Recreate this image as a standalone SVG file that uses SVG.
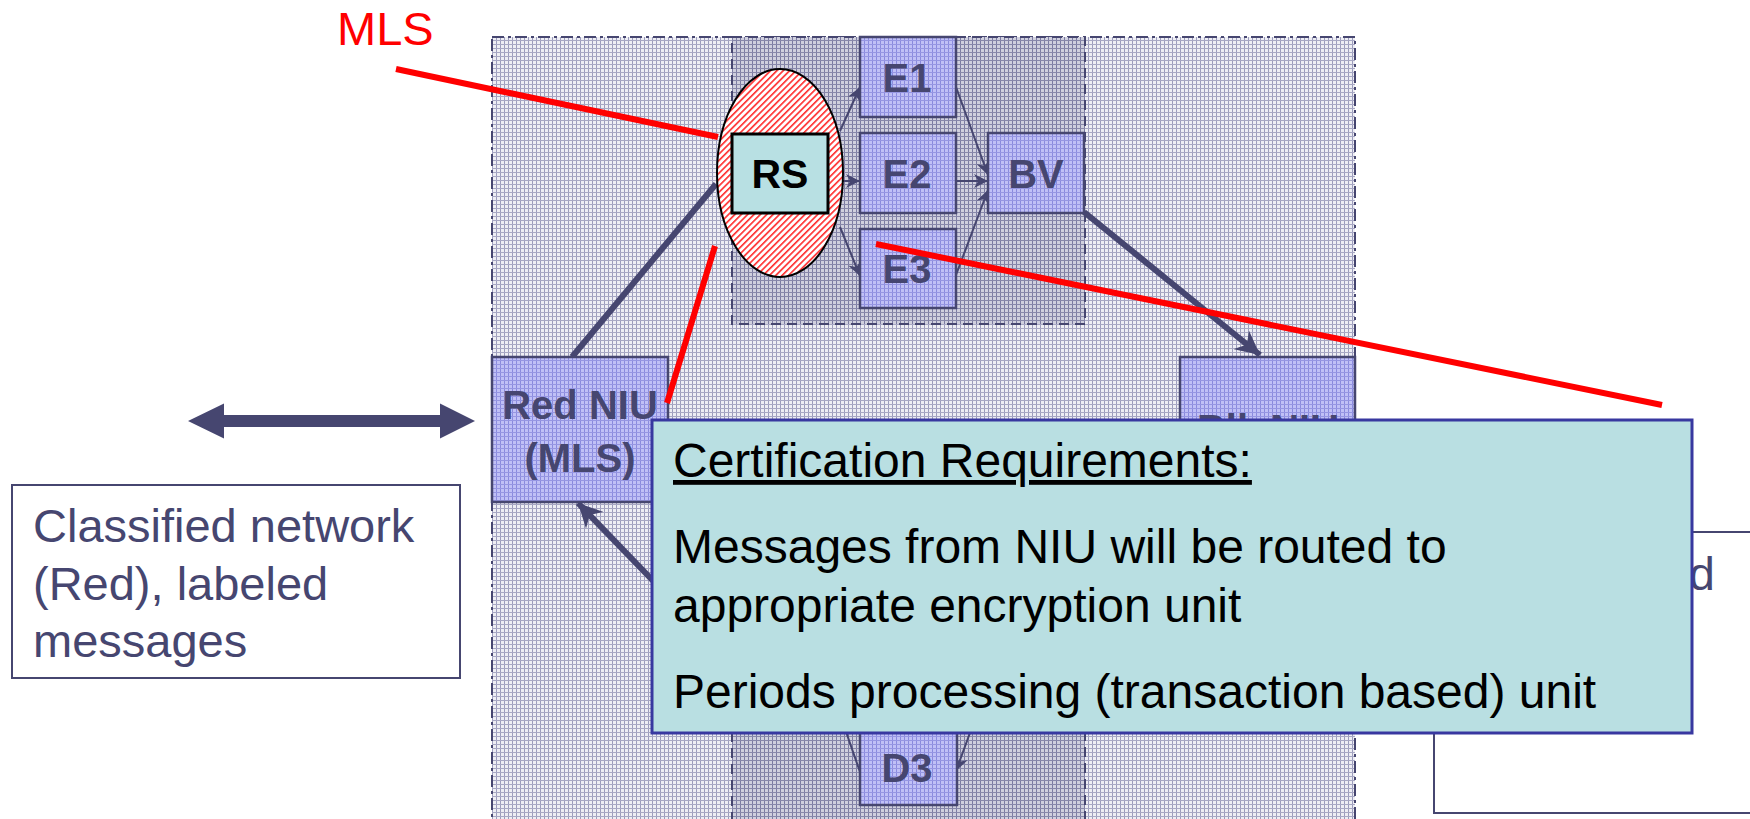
<svg xmlns="http://www.w3.org/2000/svg" width="1750" height="819" viewBox="0 0 1750 819">
<defs>
<pattern id="pOuter" width="4" height="4" patternUnits="userSpaceOnUse">
<rect width="4" height="4" fill="#EEEEF4"/>
<rect x="0" y="0" width="1" height="4" fill="#9C9CBC"/>
<rect x="0" y="0" width="4" height="1" fill="#A8A8C4"/>
</pattern>
<pattern id="pInner" width="4" height="4" patternUnits="userSpaceOnUse">
<rect width="4" height="4" fill="#D0D0DE"/>
<rect x="0" y="0" width="1" height="4" fill="#7C7CA2"/>
<rect x="0" y="0" width="4" height="1" fill="#8888AA"/>
</pattern>
<pattern id="pBox" width="4" height="4" patternUnits="userSpaceOnUse">
<rect width="4" height="4" fill="#C0C0F6"/>
<rect x="0" y="0" width="1" height="4" fill="#8A8ADE"/>
<rect x="0" y="0" width="4" height="1" fill="#9696E2"/>
</pattern>
<pattern id="pHatch" width="4.5" height="4.5" patternUnits="userSpaceOnUse" patternTransform="rotate(45)">
<rect width="4.5" height="4.5" fill="#FFFFFF"/>
<rect x="0" y="0" width="1.6" height="4.5" fill="#FF2A2A"/>
</pattern>
<marker id="aThin" viewBox="0 0 10 10" refX="10" refY="5" markerWidth="7" markerHeight="7" markerUnits="strokeWidth" orient="auto">
<path d="M0,0 L10,5 L0,10 L3,5 z" fill="#464670"/>
</marker>
<marker id="aThick" viewBox="0 0 10 10" refX="10" refY="5" markerWidth="4" markerHeight="4" markerUnits="strokeWidth" orient="auto">
<path d="M0,0 L10,5 L0,10 L3,5 z" fill="#464670"/>
</marker>
<style>
.region{stroke:#464670;stroke-width:2}
.outer{fill:url(#pOuter);stroke-dasharray:12 4 3 4}
.inner{fill:url(#pInner);stroke-dasharray:10 6}
.box{fill:url(#pBox);stroke:#464670;stroke-width:2.5}
.lbl{font-family:"Liberation Sans",Arial,sans-serif;font-weight:bold;font-size:40px;fill:#464670;text-anchor:middle}
.thin{stroke:#464670;stroke-width:2;fill:none;marker-end:url(#aThin)}
.thinp{stroke:#464670;stroke-width:2;fill:none}
.thick{stroke:#464670;stroke-width:6;fill:none}
.red{stroke:#FF0000;stroke-width:6;fill:none}
.note{font-family:"Liberation Sans",Arial,sans-serif;font-size:47px;fill:#464670}
.pop{font-family:"Liberation Sans",Arial,sans-serif;font-size:48px;fill:#000000}
</style>
</defs>
<rect width="1750" height="819" fill="#FFFFFF"/>

<g id="regions">
<rect class="region outer" x="492" y="37" width="863" height="800"/>
<rect class="region inner" x="732" y="37" width="353" height="287"/>
<rect class="region inner" x="732" y="700" width="353" height="140"/>
</g>

<g id="connectors">
<line class="thin" x1="840" y1="131" x2="860" y2="87"/>
<line class="thin" x1="843" y1="181" x2="860" y2="181"/>
<line class="thin" x1="840" y1="227" x2="860" y2="276"/>
<line class="thin" x1="956" y1="87" x2="988" y2="175"/>
<line class="thin" x1="956" y1="181" x2="988" y2="181"/>
<line class="thin" x1="956" y1="275" x2="988" y2="190"/>
<line class="thick" x1="572" y1="357" x2="716" y2="184"/>
<line class="thick" x1="1084" y1="212" x2="1260" y2="355" marker-end="url(#aThick)"/>
<line class="thick" x1="660" y1="588" x2="578" y2="503" marker-end="url(#aThick)"/>
<line class="thinp" x1="835" y1="700" x2="860" y2="772"/>
<line class="thin" x1="982" y1="700" x2="956" y2="771"/>
</g>

<g id="n-E1"><rect class="box" x="860" y="37" width="96" height="80"/><text class="lbl" x="907" y="92">E1</text></g>
<g id="n-E2"><rect class="box" x="860" y="133" width="96" height="80"/><text class="lbl" x="907" y="188">E2</text></g>
<g id="n-E3"><rect class="box" x="860" y="229" width="96" height="79"/><text class="lbl" x="907" y="283">E3</text></g>
<g id="n-BV"><rect class="box" x="988" y="133" width="96" height="80"/><text class="lbl" x="1036" y="188">BV</text></g>
<g id="n-D3"><rect class="box" x="860" y="690" width="97" height="115"/><text class="lbl" x="907" y="782">D3</text></g>
<g id="n-RedNIU"><rect class="box" x="492" y="357" width="176" height="145"/><text class="lbl" x="580" y="419">Red NIU</text><text class="lbl" x="580" y="472">(MLS)</text></g>
<g id="n-BlkNIU"><rect class="box" x="1180" y="357" width="175" height="145"/><text class="lbl" x="1268" y="443">Blk NIU</text></g>

<g id="n-RS">
<ellipse cx="780" cy="173" rx="63" ry="104" fill="url(#pHatch)" stroke="#000000" stroke-width="2"/>
<rect x="732" y="134" width="96" height="79" fill="#B8E0E3" stroke="#000000" stroke-width="3"/>
<text x="780" y="188" font-family="Liberation Sans, Arial, sans-serif" font-weight="bold" font-size="41" fill="#000000" text-anchor="middle">RS</text>
</g>

<g id="red-callouts">
<text x="337" y="45" font-family="Liberation Sans, Arial, sans-serif" font-size="47" fill="#FF0000">MLS</text>
<line class="red" x1="396" y1="69" x2="718" y2="137"/>
<line class="red" x1="876" y1="244" x2="1662" y2="405"/>
<line class="red" x1="715" y1="246" x2="667" y2="403"/>
</g>

<g id="n-arrow">
<polygon points="188,421 224,403.5 224,415 440,415 440,403.5 475,421 440,438.5 440,427 224,427 224,438.5" fill="#464670"/>
</g>

<g id="n-classified">
<rect x="12" y="485" width="448" height="193" fill="#FFFFFF" stroke="#464670" stroke-width="2"/>
<text class="note" x="33" y="542">Classified network</text>
<text class="note" x="33" y="600">(Red), labeled</text>
<text class="note" x="33" y="657">messages</text>
</g>

<g id="n-right">
<rect x="1434" y="532" width="330" height="281" fill="#FFFFFF" stroke="#464670" stroke-width="2"/>
<text class="note" x="1715" y="590" text-anchor="end">d</text>
</g>

<g id="n-popup">
<rect x="652" y="420" width="1040" height="313" fill="#B9DFE2" stroke="#3838A0" stroke-width="3"/>
<text class="pop" x="673" y="477" text-decoration="underline">Certification Requirements:</text>
<text class="pop" x="673" y="563">Messages from NIU will be routed to</text>
<text class="pop" x="673" y="622">appropriate encryption unit</text>
<text class="pop" x="673" y="708">Periods processing (transaction based) unit</text>
</g>
</svg>
